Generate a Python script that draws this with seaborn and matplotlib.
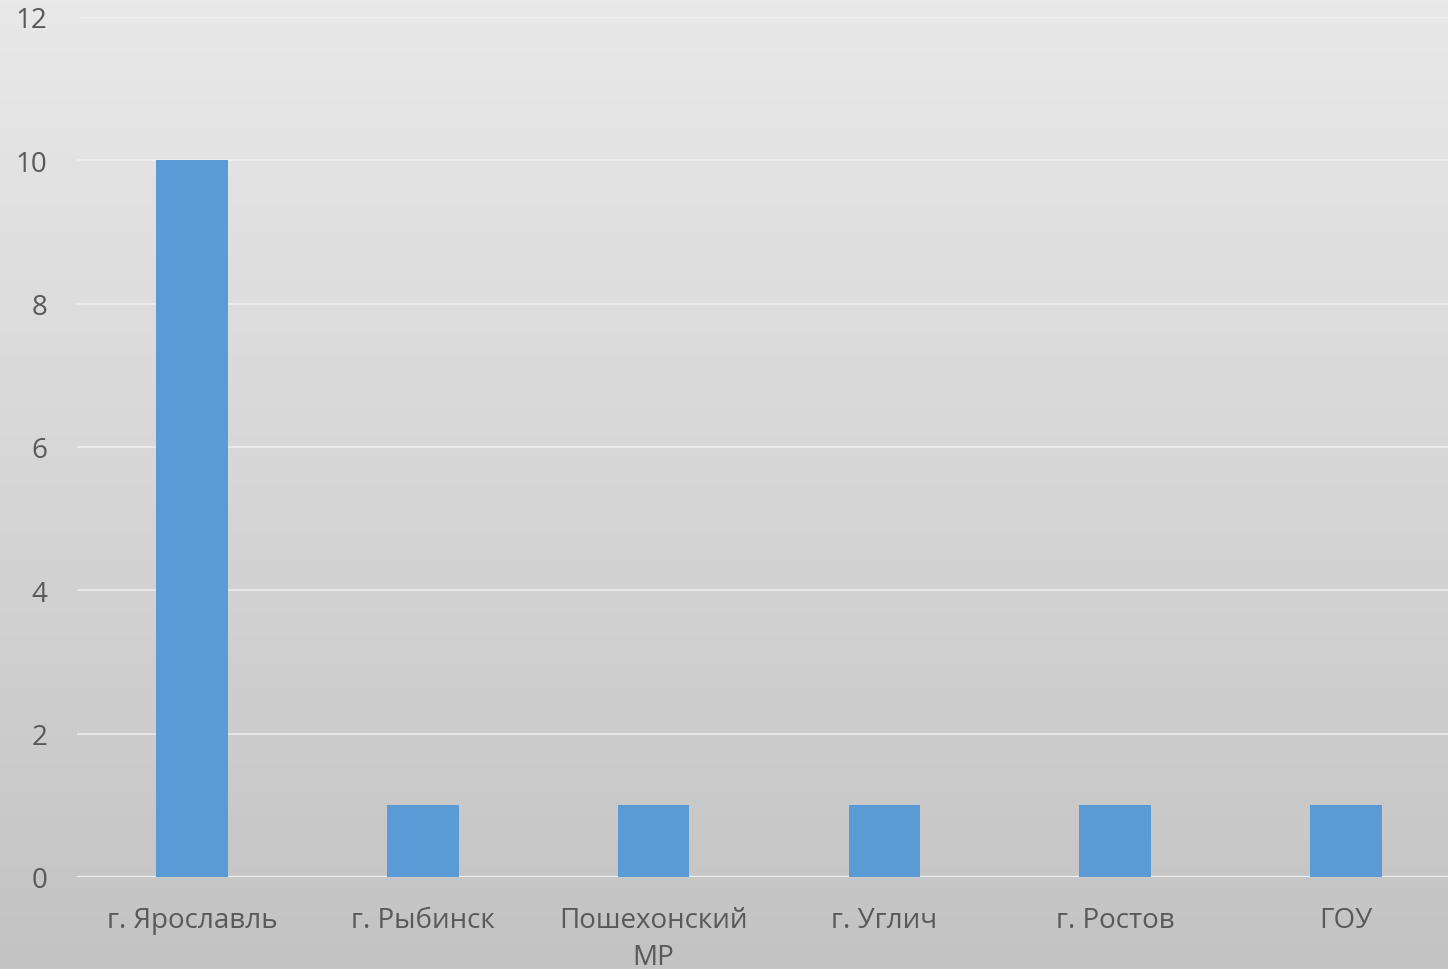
import numpy as np
import pandas as pd
import matplotlib
matplotlib.use("Agg")
import matplotlib.pyplot as plt
import seaborn as sns

# данные
categories = ["г. Ярославль", "г. Рыбинск", "Пошехонский\nМР", "г. Углич", "г. Ростов", "ГОУ"]
values = [10, 1, 1, 1, 1, 1]
y_ticks = [0, 2, 4, 6, 8, 10, 12]

df = pd.DataFrame({"cat": categories, "val": values})

sns.set_theme(style="white")
plt.rcParams["font.family"] = ["Open Sans", "DejaVu Sans"]

fig = plt.figure(figsize=(14.48, 9.7), dpi=100)

# градиентный фон
bg = fig.add_axes([0, 0, 1, 1], zorder=0)
grad = np.linspace(0, 1, 256).reshape(-1, 1)
cmap = matplotlib.colors.LinearSegmentedColormap.from_list("g", ["#e9e9e9", "#c3c3c3"])
bg.imshow(grad, aspect="auto", cmap=cmap, extent=[0, 1, 0, 1], origin="upper")
bg.axis("off")

ax = fig.add_axes([76.5 / 1448, 92 / 970, 1385 / 1448, 860 / 970], zorder=1)
ax.patch.set_alpha(0)

sns.barplot(data=df, x="cat", y="val", color="#5b9bd5", width=0.31,
            saturation=1, edgecolor="none", linewidth=0, ax=ax)

ax.set_ylim(0, 12)
ax.set_xlim(-0.5, 5.5)
ax.set_yticks(y_ticks)
ax.yaxis.grid(True, color="#f0f0f0", linewidth=1.3, alpha=0.8)
ax.set_axisbelow(True)
for s in ax.spines.values():
    s.set_visible(False)
ax.axhline(0, color="#eeeeee", linewidth=1.6, zorder=0.5)
ax.set_xlabel("")
ax.set_ylabel("")
ax.tick_params(axis="both", length=0, labelsize=20, colors="#595959")
ax.tick_params(axis="x", pad=21)
ax.tick_params(axis="y", pad=21)
for t in ax.get_xticklabels():
    t.set_linespacing(1.4)

fig.savefig("out.png", dpi=100)
